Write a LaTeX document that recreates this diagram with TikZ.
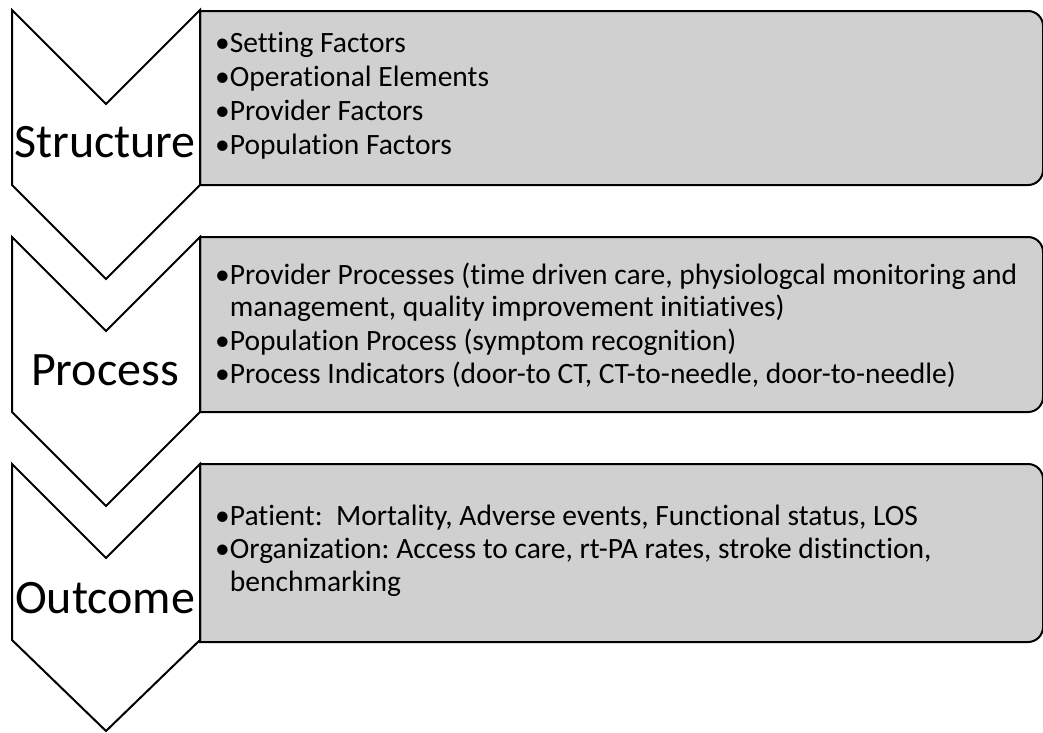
\documentclass[tikz,border=0pt]{standalone}
\usepackage{fontspec}
\setmainfont{Carlito}[Ligatures=NoCommon]
\frenchspacing
\definecolor{boxgray}{RGB}{208,208,208}
\tikzset{
  stage/.style={draw=black, line width=2pt, fill=white, line join=miter},
  gbox/.style={draw=black, line width=2pt, fill=boxgray},
  lab/.style={anchor=base, inner sep=0pt, font=\fontsize{48}{58}\selectfont},
  item/.style={anchor=base west, inner sep=0pt, font=\fontsize{29.5}{35}\selectfont\frenchspacing},
}
\begin{document}
\begin{tikzpicture}[x=1pt, y=-1pt]
\useasboundingbox (0,0) rectangle (1043,732);
% grey boxes
\path[gbox] (200,11) -- (1028,11) .. controls (1036.3,11) and (1043,17.7) .. (1043,26)
  -- (1043,170) .. controls (1043,178.3) and (1036.3,185) .. (1028,185) -- (200,185) -- cycle;
\path[gbox] (200,237) -- (1028,237) .. controls (1036.3,237) and (1043,243.7) .. (1043,252)
  -- (1043,397) .. controls (1043,405.3) and (1036.3,412) .. (1028,412) -- (200,412) -- cycle;
\path[gbox] (200,464) -- (1028,464) .. controls (1036.3,464) and (1043,470.7) .. (1043,479)
  -- (1043,627) .. controls (1043,635.3) and (1036.3,642) .. (1028,642) -- (200,642) -- cycle;
% chevrons
\path[stage] (12,10) -- (106,104) -- (200,10) -- (200,185) -- (106,279) -- (12,185) -- cycle;
\path[stage] (12,237) -- (106,331) -- (200,237) -- (200,412) -- (106,506) -- (12,412) -- cycle;
\path[stage] (12,464) -- (106,558) -- (200,464) -- (200,640) -- (106,731) -- (12,640) -- cycle;
% stage labels
\node[lab] (structure) at (105,157) {Structure};
\node[lab] (process) at (105,385) {Process};
\node[lab] (outcome) at (105,613) {Outcome};
% structure items
\node[item] (s1) at (215,52) {•Setting Factors};
\node[item] (s2) at (215,86) {•Operational Elements};
\node[item] (s3) at (215,120) {•Provider Factors};
\node[item] (s4) at (215,154) {•Population Factors};
% process items
\node[item] (p1) at (215,284) {•Provider Processes (time driven care, physiologcal monitoring and};
\node[item] (p1b) at (215,316) {\hphantom{•}management, quality improvement initiatives)};
\node[item] (p2) at (215,350) {•Population Process (symptom recognition)};
\node[item] (p3) at (215,383) {•Process Indicators (door-to CT, CT-to-needle, door-to-needle)};
% outcome items
\node[item] (o1) at (215,525) {•Patient:\ \ Mortality, Adverse events, Functional status, LOS};
\node[item] (o2) at (215,558) {•Organization: Access to care, rt-PA rates, stroke distinction,};
\node[item] (o2b) at (215,591) {\hphantom{•}benchmarking};
\end{tikzpicture}
\end{document}
